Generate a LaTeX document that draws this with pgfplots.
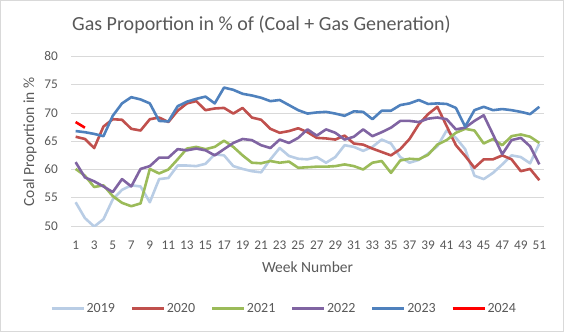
\documentclass[border=0pt]{standalone}
\usepackage{pgfplots}
\pgfplotsset{compat=1.18}
\usepackage{fontspec}
\setmainfont{Carlito}
\definecolor{txt}{RGB}{89,89,89}
\definecolor{gridc}{RGB}{217,217,217}
\definecolor{c19}{RGB}{185,205,229}
\definecolor{c20}{RGB}{192,80,77}
\definecolor{c21}{RGB}{155,187,89}
\definecolor{c22}{RGB}{128,100,162}
\definecolor{c23}{RGB}{79,129,189}
\definecolor{c24}{RGB}{255,0,0}
\begin{document}
\begin{tikzpicture}[x=1pt,y=1pt]
\path (0,0) rectangle (564,332);
\draw[gridc, line width=1pt] (0.5,0.5) rectangle (563.5,331.5);
\node[anchor=base, text=txt, font=\fontsize{20}{24}\selectfont] at (261.5,301) {Gas Proportion in \% of (Coal + Gas Generation)};
\node[rotate=90, text=txt, font=\fontsize{15.5}{18}\selectfont] at (30,190) {Coal Proportion in \%};
\node[text=txt, font=\fontsize{15.5}{18}\selectfont] at (307.5,65) {Week Number};
\begin{axis}[
  at={(71pt,106pt)}, anchor=south west,
  scale only axis, width=473pt, height=169.5pt,
  xmin=0.5, xmax=51.5, ymin=50, ymax=80,
  xtick={1,3,...,51}, ytick={50,55,...,80},
  ymajorgrids, grid style={gridc, line width=1pt},
  axis line style={draw=none}, major tick length=0pt,
  tick style={draw=none},
  /pgf/number format/assume math mode=true,
  ticklabel style={text=txt, font=\fontsize{13.3}{16}\selectfont, inner sep=0pt},
  yticklabel style={anchor=east, xshift=-13pt},
  xticklabel style={anchor=north, yshift=-14.5pt},
  every axis plot/.append style={line width=2.6pt, line join=round, mark=none},
  legend columns=6,
  legend image code/.code={\draw[#1, line width=2.8pt] (0pt,0pt) -- (32pt,0pt);},
  legend style={at={(0.45,-0.485)}, anchor=center, draw=none, fill=none,
    font=\fontsize{14}{16}\selectfont, text=txt,
    /tikz/every even column/.append style={column sep=14pt},
    nodes={inner xsep=1.5pt, inner ysep=1pt}},
]
\addplot[c19] coordinates {(1,54.2)(2,51.4)(3,49.9)(4,51.2)(5,54.7)(6,56.4)(7,57.2)(8,57.0)(9,54.2)(10,58.3)(11,58.5)(12,60.7)(13,60.7)(14,60.6)(15,61.0)(16,62.7)(17,62.5)(18,60.6)(19,60.1)(20,59.7)(21,59.5)(22,61.8)(23,63.8)(24,62.4)(25,61.9)(26,61.8)(27,62.2)(28,61.2)(29,62.2)(30,64.3)(31,64.0)(32,63.3)(33,64.0)(34,65.3)(35,64.6)(36,62.2)(37,61.2)(38,61.7)(39,62.8)(40,64.1)(41,66.9)(42,65.6)(43,63.6)(44,58.9)(45,58.3)(46,59.4)(47,60.9)(48,62.5)(49,62.2)(50,61.1)(51,64.6)};
\addlegendentry{2019}
\addplot[c20] coordinates {(1,65.8)(2,65.4)(3,63.8)(4,67.6)(5,68.9)(6,68.8)(7,67.2)(8,66.9)(9,68.9)(10,69.2)(11,68.4)(12,70.4)(13,71.7)(14,72.1)(15,70.5)(16,70.8)(17,70.9)(18,69.9)(19,70.9)(20,69.2)(21,68.8)(22,67.2)(23,66.5)(24,66.8)(25,67.3)(26,66.6)(27,65.6)(28,65.5)(29,65.3)(30,66.0)(31,64.6)(32,64.4)(33,63.7)(34,63.1)(35,62.5)(36,63.6)(37,65.4)(38,68.0)(39,69.8)(40,71.1)(41,67.7)(42,64.3)(43,62.4)(44,60.3)(45,61.8)(46,61.8)(47,62.5)(48,61.8)(49,59.7)(50,60.1)(51,58.1)};
\addlegendentry{2020}
\addplot[c21] coordinates {(1,60.1)(2,58.9)(3,56.9)(4,57.2)(5,55.3)(6,54.1)(7,53.5)(8,54.0)(9,60.1)(10,59.3)(11,60.0)(12,61.8)(13,63.7)(14,64.0)(15,63.6)(16,64.0)(17,65.1)(18,64.0)(19,62.5)(20,61.2)(21,61.1)(22,61.5)(23,61.2)(24,61.4)(25,60.3)(26,60.4)(27,60.5)(28,60.5)(29,60.6)(30,60.9)(31,60.6)(32,60.0)(33,61.2)(34,61.5)(35,59.4)(36,61.6)(37,61.9)(38,61.8)(39,62.6)(40,64.4)(41,65.2)(42,66.5)(43,67.2)(44,66.9)(45,64.6)(46,65.4)(47,64.3)(48,65.9)(49,66.2)(50,65.8)(51,64.7)};
\addlegendentry{2021}
\addplot[c22] coordinates {(1,61.3)(2,58.6)(3,57.9)(4,57.0)(5,56.0)(6,58.3)(7,57.0)(8,60.1)(9,60.6)(10,62.1)(11,62.1)(12,63.6)(13,63.4)(14,63.7)(15,63.4)(16,62.5)(17,63.6)(18,64.7)(19,65.4)(20,65.2)(21,64.3)(22,63.8)(23,65.3)(24,64.7)(25,65.6)(26,67.1)(27,66.0)(28,67.1)(29,66.5)(30,65.3)(31,65.8)(32,67.1)(33,65.9)(34,66.6)(35,67.4)(36,68.6)(37,68.6)(38,68.4)(39,69.0)(40,69.2)(41,68.9)(42,67.1)(43,67.4)(44,68.6)(45,69.6)(46,66.2)(47,62.7)(48,65.2)(49,65.6)(50,64.1)(51,60.9)};
\addlegendentry{2022}
\addplot[c23] coordinates {(1,66.8)(2,66.6)(3,66.3)(4,65.9)(5,69.5)(6,71.7)(7,72.8)(8,72.4)(9,71.7)(10,68.6)(11,68.5)(12,71.2)(13,72.0)(14,72.5)(15,72.9)(16,71.7)(17,74.5)(18,74.1)(19,73.4)(20,73.1)(21,72.7)(22,72.1)(23,72.3)(24,71.4)(25,70.5)(26,69.9)(27,70.1)(28,70.2)(29,69.9)(30,69.5)(31,70.3)(32,70.2)(33,68.9)(34,70.4)(35,70.4)(36,71.4)(37,71.7)(38,72.3)(39,71.6)(40,71.7)(41,71.6)(42,70.9)(43,67.6)(44,70.5)(45,71.1)(46,70.5)(47,70.7)(48,70.5)(49,70.2)(50,69.8)(51,71.1)};
\addlegendentry{2023}
\addplot[c24] coordinates {(1,68.4)(2,67.4)};
\addlegendentry{2024}
\end{axis}
\end{tikzpicture}
\end{document}
